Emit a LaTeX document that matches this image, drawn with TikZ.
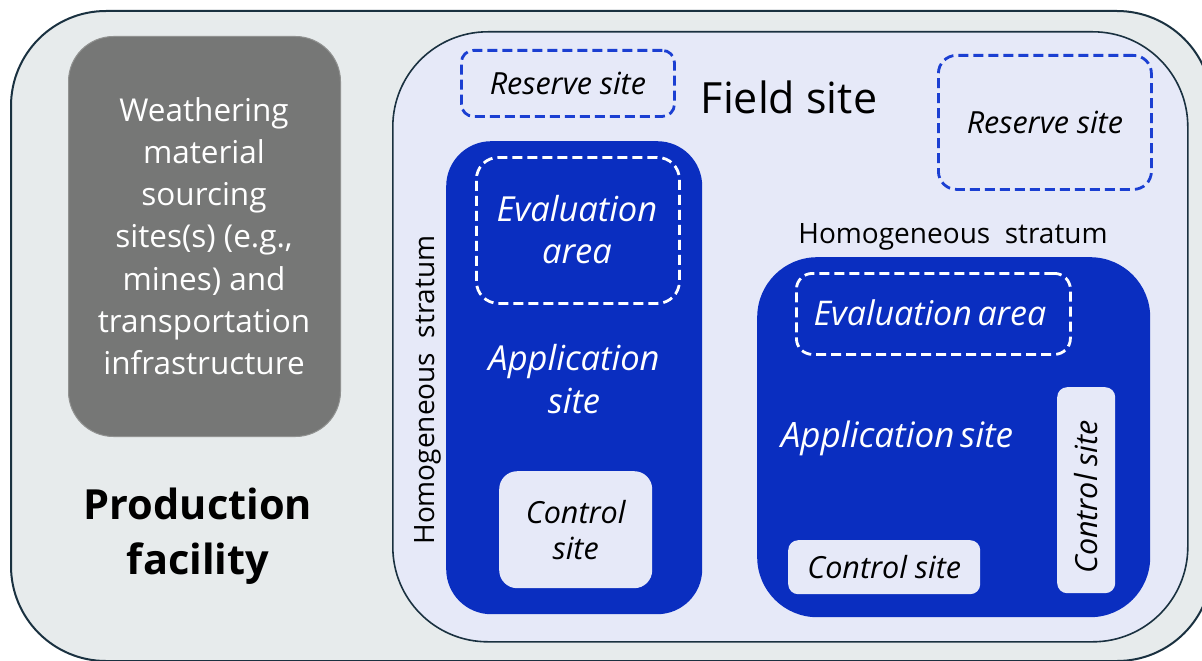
\documentclass[tikz,border=0pt]{standalone}
\usepackage{fontspec}
\setmainfont{Open Sans}
\definecolor{outerfill}{HTML}{E7EBEC}
\definecolor{outerline}{HTML}{1A3140}
\definecolor{fieldfill}{HTML}{E6E9F8}
\definecolor{stratblue}{HTML}{0A2EC0}
\definecolor{dashblue}{HTML}{1B3FD2}
\definecolor{sourcegray}{HTML}{767776}
\tikzset{
  box/.style={rounded corners=#1, inner sep=0pt},
  dashbox/.style={draw, line width=2.8pt, dash pattern=on 10pt off 5pt, rounded corners=18pt, inner sep=0pt},
  lbl/.style={inner sep=0pt, align=center},
}
\begin{document}
\begin{tikzpicture}[x=1pt,y=-1pt]
\useasboundingbox (0,0) rectangle (1202,661);
\begin{scope}
\clip (0,0) rectangle (1202,661);
% outer production facility
\draw[fill=outerfill, draw=outerline, line width=2pt, rounded corners=95pt] (11,11) rectangle (1212,661);
\coordinate (outer) at (600,330);
% field site
\node[box=95pt, draw=outerline, line width=1.6pt, fill=fieldfill, minimum width=795pt, minimum height=610pt, anchor=north west] (field) at (392,31) {};
\end{scope}
% gray sourcing box
\node[box=45pt, fill=sourcegray, draw=sourcegray!80!white, line width=1pt, minimum width=272pt, minimum height=400pt, anchor=north west] (source) at (68,36) {};
\node[lbl, text=white, font=\fontsize{31.5}{42.2}\selectfont] (sourcetxt) at (204,236) {Weathering\\material\\sourcing\\sites(s) (e.g.,\\mines) and\\transportation\\infrastructure};
\node[lbl, font=\bfseries\fontsize{41.5}{55}\selectfont] (prod) at (198,536) {Production\\facility};
% field site label
\node[lbl, font=\fontsize{43}{48}\selectfont] (fieldtxt) at (789,97) {Field site};
% reserve sites
\node[dashbox, draw=dashblue, minimum width=213pt, minimum height=66pt, anchor=north west, rounded corners=12pt] (res1) at (460,49) {};
\node[lbl, font=\itshape\fontsize{30.5}{34}\selectfont] (res1txt) at (res1) {Reserve site};
\node[dashbox, draw=dashblue, minimum width=213pt, minimum height=134pt, anchor=north west] (res2) at (937,54) {};
\node[lbl, font=\itshape\fontsize{30.5}{34}\selectfont] (res2txt) at (res2) {Reserve site};
% left stratum
\node[box=45pt, fill=stratblue, minimum width=256pt, minimum height=473pt, anchor=north west] (stratL) at (446,141) {};
\node[lbl, rotate=90, font=\fontsize{28}{32}\selectfont] (stratLtxt) at (428,390) {Homogeneous\ \ stratum};
\node[dashbox, draw=white, minimum width=203pt, minimum height=146pt, anchor=north west, rounded corners=22pt] (evalL) at (475,156) {};
\node[lbl, text=white, font=\itshape\fontsize{34.5}{42}\selectfont] (evalLtxt) at (577,230) {Evaluation\\area};
\node[lbl, text=white, font=\itshape\fontsize{34.5}{43}\selectfont] (appLtxt) at (574,379) {Application\\site};
\node[box=18pt, fill=fieldfill, minimum width=153pt, minimum height=117pt, anchor=north west] (ctrlL) at (499,471) {};
\node[lbl, font=\itshape\fontsize{30.5}{36}\selectfont] (ctrlLtxt) at (ctrlL) {Control\\site};
% right stratum
\node[lbl, font=\fontsize{28}{32}\selectfont] (stratRtxt) at (953,237) {Homogeneous\ \ stratum};
\node[box=60pt, fill=stratblue, minimum width=393pt, minimum height=360pt, anchor=north west] (stratR) at (757,257) {};
\node[dashbox, draw=white, minimum width=274pt, minimum height=81pt, anchor=north west, rounded corners=16pt] (evalR) at (795,272) {};
\node[lbl, text=white, font=\itshape\fontsize{34}{38}\selectfont] (evalRtxt) at (930,313) {Evaluation\,area};
\node[lbl, text=white, font=\itshape\fontsize{35}{38}\selectfont] (appRtxt) at (897,438) {Application\,site};
\node[box=10pt, fill=fieldfill, minimum width=192pt, minimum height=54pt, anchor=north west] (ctrlR1) at (788,540) {};
\node[lbl, font=\itshape\fontsize{30.5}{34}\selectfont] (ctrlR1txt) at (ctrlR1) {Control site};
\node[box=10pt, fill=fieldfill, minimum width=58pt, minimum height=206pt, anchor=north west] (ctrlR2) at (1057,387) {};
\node[lbl, rotate=90, font=\itshape\fontsize{30.5}{34}\selectfont] (ctrlR2txt) at (1086,497) {Control site};
\end{tikzpicture}
\end{document}
